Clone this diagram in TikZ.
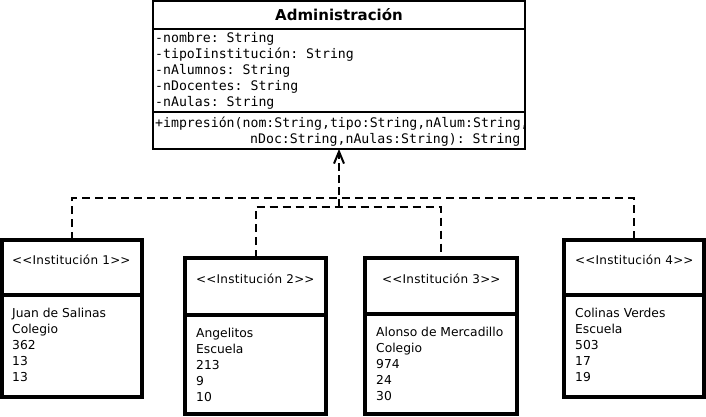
\documentclass[tikz,border=0pt]{standalone}
\usepackage{fontspec}
\setmainfont{DejaVu Sans}[Ligatures=TeXOff]
\setmonofont{DejaVu Sans Mono}
\newfontfamily\stereofont{DejaVu Sans}[Ligatures=TeXOff,LetterSpace=2.5]
\usetikzlibrary{arrows.meta}
\begin{document}
\begin{tikzpicture}[x=1pt,y=-1pt,
  box/.style={draw, rectangle, inner sep=0pt, outer sep=0pt, anchor=north west},
  admbox/.style={box, line width=1.5pt},
  instbox/.style={box, line width=4pt},
  divider/.style={line width=4pt},
  mono/.style={font=\fontsize{13.2}{16}\selectfont\ttfamily, anchor=base west, inner sep=0pt},
  body/.style={font=\fontsize{12.3}{16}\selectfont, anchor=base west, inner sep=0pt},
  stereo/.style={font=\fontsize{12}{14}\selectfont\stereofont, anchor=base west, inner sep=0pt},
  dep/.style={line width=2pt, dash pattern=on 8pt off 5pt}]
\useasboundingbox (0,0) rectangle (706,417);

% Administracion class
\node[admbox, minimum width=372pt, minimum height=148pt] (adm) at (153,1) {};
\node[font=\fontsize{15}{18}\selectfont\bfseries, inner sep=0pt] (admtitle) at (339,15) {Administración};
\draw[line width=1.5pt] (153,29) -- (525,29);
\draw[line width=1.5pt] (153,112) -- (525,112);
\foreach \t [count=\k] in {-nombre: String, -tipoIinstitución: String, -nAlumnos: String, -nDocentes: String, -nAulas: String}
  \node[mono] (attr\k) at (155,{26.5+16*\k}) {\t};
\node[mono] (meth1) at (155,127.5) {+impresión(nom:String,tipo:String,nAlum:String,};
\node[mono] (meth2) at (250,143.5) {nDoc:String,nAulas:String): String};

% Institution boxes
\node[instbox, minimum width=140pt, minimum height=157pt] (i1) at (2,240) {};
\node[instbox, minimum width=141pt, minimum height=156pt] (i2) at (185,258) {};
\node[instbox, minimum width=152pt, minimum height=156pt] (i3) at (365,258) {};
\node[instbox, minimum width=140pt, minimum height=157pt] (i4) at (564,240) {};
\draw[divider] (i1.west |- 0,295) -- (i1.east |- 0,295);
\draw[divider] (i2.west |- 0,315) -- (i2.east |- 0,315);
\draw[divider] (i3.west |- 0,314) -- (i3.east |- 0,314);
\draw[divider] (i4.west |- 0,295) -- (i4.east |- 0,295);

\node[stereo] (s1) at (12,264.5) {<\kern0pt<Institución 1>\kern0pt>};
\node[stereo] (s2) at (196,283.5) {<\kern0pt<Institución 2>\kern0pt>};
\node[stereo] (s3) at (382,283.5) {<\kern0pt<Institución 3>\kern0pt>};
\node[stereo] (s4) at (575,264.5) {<\kern0pt<Institución 4>\kern0pt>};

\foreach \t [count=\k] in {Juan de Salinas, Colegio, 362, 13, 13}
  \node[body] (ba\k) at (12,{301.5+16*\k}) {\t};
\foreach \t [count=\k] in {Angelitos, Escuela, 213, 9, 10}
  \node[body] (bb\k) at (196,{321.5+16*\k}) {\t};
\foreach \t [count=\k] in {Alonso de Mercadillo, Colegio, 974, 24, 30}
  \node[body] (bc\k) at (376,{320.5+16*\k}) {\t};
\foreach \t [count=\k] in {Colinas Verdes, Escuela, 503, 17, 19}
  \node[body] (bd\k) at (575,{301.5+16*\k}) {\t};

% connectors
\coordinate (jA) at (339,198);
\coordinate (jB) at (339,207);
\draw[dep] (i1.north) |- (jA) -| (i4.north);
\draw[dep] (i2.north) |- (jB) -| (i3.north);
\draw[dep, dash pattern=on 8pt off 4pt, -{Straight Barb[length=12pt,width=10pt,line width=2pt]}] (jB) -- (adm.south);
\end{tikzpicture}
\end{document}
